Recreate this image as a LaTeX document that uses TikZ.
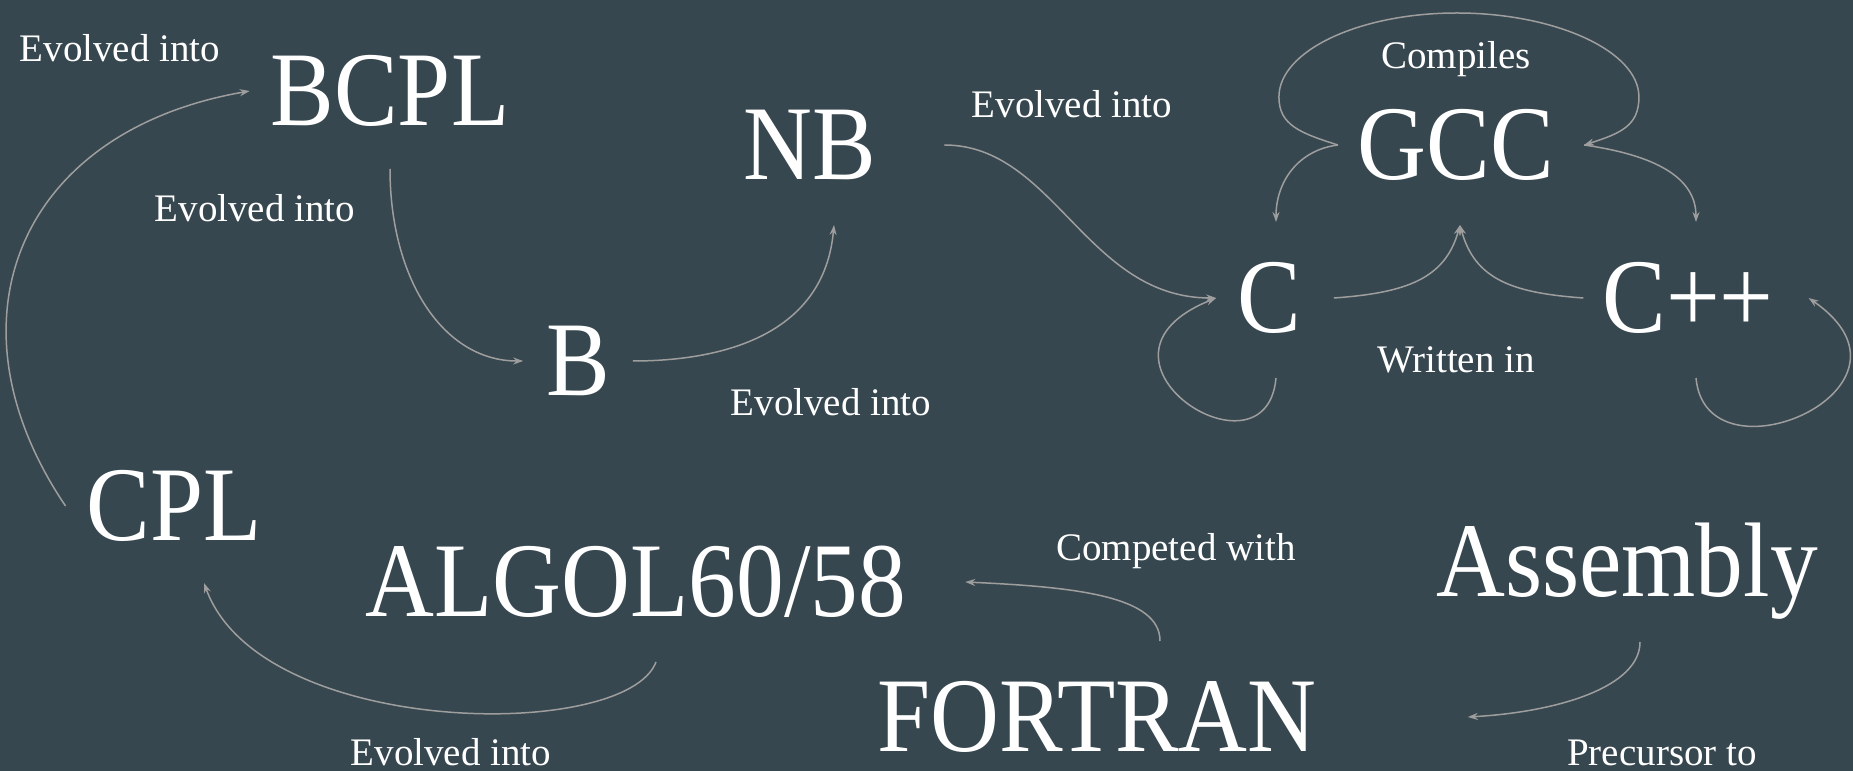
\documentclass[tikz,border=0pt]{standalone}
\usepackage{fontspec}
\setmainfont{Liberation Serif}
\newfontfamily\bigfam{Liberation Serif}[FakeStretch=0.9]
\usetikzlibrary{arrows.meta}
\definecolor{bg}{HTML}{37474F}
\definecolor{edgegray}{HTML}{9E9E9E}
\tikzset{
 lang/.style={font=\bigfam\fontsize{106}{110}\selectfont, text=white, inner sep=0pt, outer sep=0pt, anchor=base, text height=70pt, text depth=0pt},
 rel/.style={font=\fontsize{39}{44}\selectfont, text=white, inner sep=0pt, outer sep=0pt, anchor=base, text depth=0pt},
 edge/.style={draw=edgegray, line width=1.5pt, -{Stealth[length=10pt,width=7pt]}}
}
\begin{document}
\begin{tikzpicture}[x=1pt,y=1pt]
\fill[bg] (0,0) rectangle (1853,771);
\useasboundingbox (0,0) rectangle (1853,771);
\node[rel] (ev1) at (120,709) {Evolved into};
\node[lang] (bcpl) at (390,645) {BCPL};
\node[rel] (ev2) at (255,549) {Evolved into};
\node[lang] (nb) at (810,591) {NB};
\node[rel] (ev3) at (1072,653) {Evolved into};
\node[lang] (b) at (578,375) {B};
\node[rel] (ev4) at (831,355) {Evolved into};
\node[rel] (compiles) at (1456,702) {Compiles};
\node[lang] (gcc) at (1456,591) {GCC};
\node[lang] (c) at (1269,438) {C};
\node[lang] (cpp) at (1688,438) {C++};
\node[rel] (written) at (1456,398) {Written in};
\node[lang] (cpl) at (174,230) {CPL};
\node[lang] (algol) at (636,154) {ALGOL60/58};
\node[rel] (competed) at (1176,210) {Competed with};
\node[lang] (asm) at (1627,174) {Assembly};
\node[lang] (fortran) at (1097,19) {FORTRAN};
\node[rel] (ev5) at (451,5) {Evolved into};
\node[rel] (prec) at (1662,5) {Precursor to};

\draw[edge] ([xshift=-21pt]cpl.west) .. controls +(-125,185) and +(-231,-40) .. ([xshift=-21pt]bcpl.west);
\draw[edge] ([yshift=-43pt]bcpl.south) .. controls +(0,-110) and +(-80,0) .. ([xshift=-23pt]b.west);
\draw[edge] ([xshift=23pt]b.east) .. controls +(90,0) and +(-10,-110) .. ([xshift=24pt,yshift=-45pt]nb.south);
\draw[edge] ([xshift=68pt]nb.east) .. controls +(110,0) and +(-130,0) .. ([xshift=-21pt]c.west);
\draw[edge] ([xshift=-20pt]gcc.west) .. controls +(-40,-5) and +(0,40) .. ([xshift=7pt,yshift=41pt]c.north);
\draw[edge] ([xshift=-20pt]gcc.west)
  .. controls +(-38,12) and +(0,-28) .. ++(-59,48)
  .. controls +(0,46) and +(-98,0) .. ++(178,84)
  .. controls +(98,0) and +(0,46) .. ++(182,-84)
  .. controls +(0,-28) and +(38,12) .. ([xshift=30pt]gcc.east);
\draw[edge] ([xshift=30pt]gcc.east) .. controls +(70,-10) and +(0,45) .. ([xshift=8pt,yshift=41pt]cpp.north);
\draw[edge] ([xshift=33pt]c.east) .. controls +(70,5) and +(-15,-55) .. ([xshift=4pt,yshift=-45pt]gcc.south);
\draw[edge] ([xshift=-19pt]cpp.west) .. controls +(-70,5) and +(15,-55) .. ([xshift=4pt,yshift=-45pt]gcc.south);
\draw[edge] ([xshift=7pt,yshift=-45pt]c.south) .. controls +(-10,-110) and +(-150,-60) .. ([xshift=-21pt]c.west);
\draw[edge] ([xshift=8pt,yshift=-45pt]cpp.south) .. controls +(10,-110) and +(130,-90) .. ([xshift=35pt]cpp.east);
\draw[edge] ([xshift=20pt,yshift=-45pt]algol.south) .. controls +(-30,-80) and +(56,-155) .. ([xshift=30pt,yshift=-42pt]cpl.south);
\draw[edge] ([xshift=63pt,yshift=41pt]fortran.north) .. controls +(0,45) and +(110,-5) .. ([xshift=59pt]algol.east);
\draw[edge] ([xshift=13pt,yshift=-45pt]asm.south) .. controls +(0,-45) and +(90,5) .. ([xshift=151pt]fortran.east);
\end{tikzpicture}
\end{document}
